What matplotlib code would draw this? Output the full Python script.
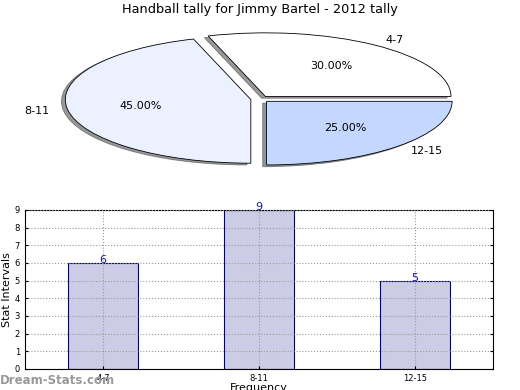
import matplotlib
matplotlib.use("Agg")
import matplotlib.pyplot as plt

title = "Handball tally for Jimmy Bartel - 2012 tally"
categories = ["4-7", "8-11", "12-15"]
values = [6, 9, 5]
pie_colors = ["#FFFFFF", "#EBF1FE", "#C4D8FF"]

fig = plt.figure(figsize=(5.2, 3.9), dpi=100)

# Pie
axp = fig.add_axes([0.054, 0.542, 0.892, 0.408])
wedges, texts, autotexts = axp.pie(values, labels=categories, colors=pie_colors,
                                   explode=[0.05] * 3, startangle=0,
                                   shadow={"ox": -0.015, "oy": -0.02, "shade": 0.8},
                                   autopct="%1.2f%%",
                                   wedgeprops=dict(edgecolor="black", linewidth=0.6),
                                   textprops=dict(fontsize=8))
axp.set_aspect("auto")
axp.set_xlim(-1.25, 1.25)
axp.set_ylim(-1.25, 1.25)
fig.text(0.5, 0.975, title, ha="center", va="center", fontsize=9.3)

# Bars
axb = fig.add_axes([0.048, 0.054, 0.9, 0.408])
x = list(range(len(categories)))
bars = axb.bar(x, values, width=0.45, color="#CCCCE6", edgecolor="navy", linewidth=0.8, zorder=1)
for xi, v in zip(x, values):
    axb.text(xi, v - 0.12, str(v), ha="center", va="bottom", color="#1a1aa0", fontsize=8, zorder=4)
axb.set_xlim(-0.5, 2.5)
axb.set_ylim(0, 9)
axb.set_xticks(x)
axb.set_xticklabels(categories)
axb.set_yticks(range(10))
axb.tick_params(labelsize=6, direction="in", length=2, right=True, top=False)
axb.set_axisbelow(False)
axb.grid(True, linestyle=":", color="#999999", linewidth=0.8, zorder=3)
axb.set_ylabel("Stat Intervals", fontsize=8, labelpad=2)
axb.set_xlabel("Frequency", fontsize=8, labelpad=0)
fig.text(0.0, 0.025, "Dream-Stats.com", color="#999999", fontsize=8.5, fontweight="bold",
         ha="left", va="center")

fig.savefig("out.png", dpi=100)
